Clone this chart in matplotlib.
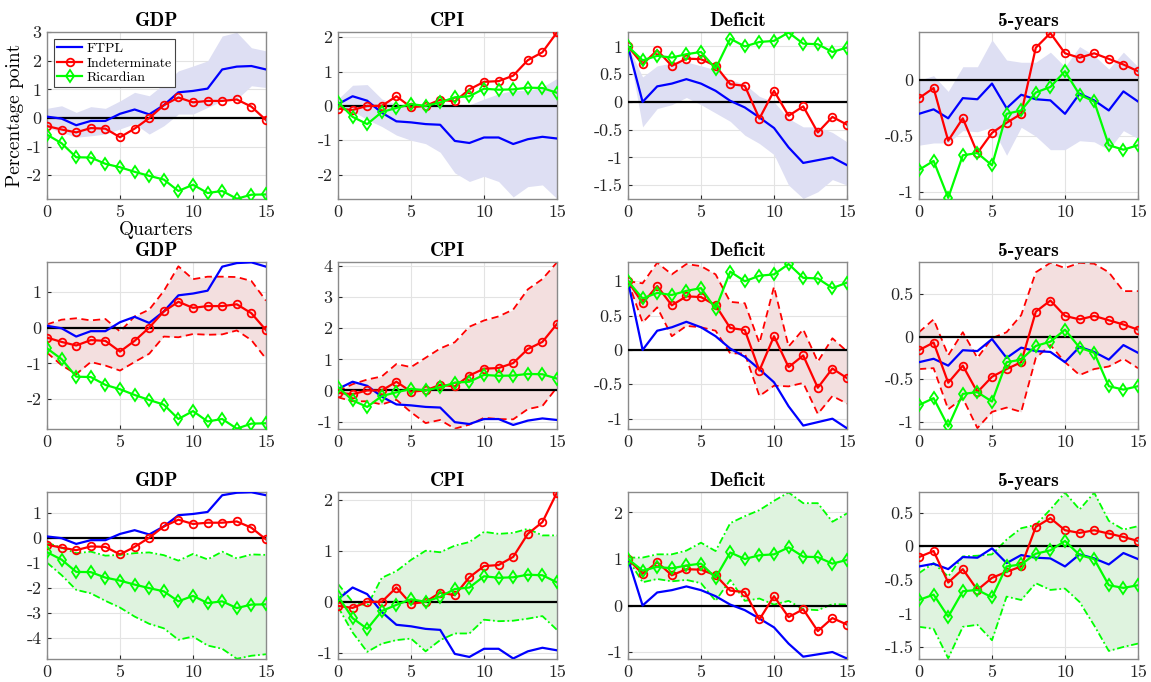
import numpy as np
import matplotlib
matplotlib.use('Agg')
import matplotlib.pyplot as plt

quarters = np.arange(16)
variables = ['GDP', 'CPI', 'Deficit', '5-years']
series_names = ['FTPL', 'Indeterminate', 'Ricardian']

# median responses
gdp_ftpl = [0.05, -0.02, -0.25, -0.1, -0.1, 0.15, 0.3, 0.13, 0.45, 0.9, 0.95, 1.03, 1.7, 1.8, 1.82, 1.7]
gdp_indet = [-0.28, -0.4, -0.5, -0.35, -0.37, -0.67, -0.37, 0.0, 0.45, 0.72, 0.55, 0.6, 0.6, 0.65, 0.4, -0.07]
gdp_ric = [-0.58, -0.88, -1.37, -1.38, -1.6, -1.72, -1.88, -2.02, -2.15, -2.55, -2.33, -2.62, -2.55, -2.82, -2.68, -2.67]

cpi_ftpl = [0.05, 0.28, 0.15, -0.2, -0.45, -0.48, -0.53, -0.55, -1.02, -1.08, -0.92, -0.92, -1.11, -0.97, -0.9, -0.95]
cpi_indet = [-0.08, -0.12, 0.0, 0.0, 0.28, -0.04, 0.0, 0.18, 0.13, 0.48, 0.7, 0.72, 0.88, 1.33, 1.56, 2.14]
cpi_ric = [0.11, -0.32, -0.53, -0.18, -0.06, 0.05, 0.0, 0.1, 0.25, 0.28, 0.5, 0.47, 0.48, 0.53, 0.52, 0.38]

def_ftpl = [1.0, 0.0, 0.28, 0.33, 0.41, 0.33, 0.2, 0.02, -0.1, -0.28, -0.47, -0.82, -1.1, -1.05, -1.0, -1.14]
def_indet = [1.0, 0.68, 0.93, 0.65, 0.78, 0.77, 0.65, 0.32, 0.29, -0.3, 0.2, -0.25, -0.08, -0.55, -0.27, -0.41]
def_ric = [1.0, 0.75, 0.83, 0.8, 0.86, 0.9, 0.6, 1.14, 1.0, 1.08, 1.1, 1.25, 1.05, 1.04, 0.9, 0.98]

y5_ftpl = [-0.3, -0.26, -0.34, -0.16, -0.17, -0.03, -0.25, -0.13, -0.17, -0.18, -0.3, -0.12, -0.18, -0.27, -0.1, -0.19]
y5_indet = [-0.16, -0.07, -0.54, -0.34, -0.65, -0.47, -0.38, -0.3, 0.29, 0.42, 0.24, 0.2, 0.24, 0.19, 0.14, 0.08]
y5_ric = [-0.8, -0.72, -1.05, -0.67, -0.65, -0.76, -0.3, -0.27, -0.11, -0.06, 0.08, -0.13, -0.19, -0.58, -0.62, -0.58]

# FTPL bands (row 1)
gdp_ftpl_hi = [0.34, 0.43, 0.2, 0.4, 0.34, 0.6, 0.9, 0.78, 1.19, 1.65, 1.82, 2.0, 2.87, 3.0, 2.46, 2.35]
gdp_ftpl_lo = [-0.33, -0.5, -0.67, -0.62, -0.56, -0.38, -0.2, -0.56, -0.27, 0.14, 0.14, 0.37, 0.6, 0.66, 1.13, 1.07]
cpi_ftpl_hi = [0.2, 0.6, 0.62, 0.2, 0.05, 0.0, 0.02, -0.02, -0.02, 0.03, 0.2, 0.35, 0.45, 0.45, 0.55, 0.8]
cpi_ftpl_lo = [-0.02, -0.15, -0.4, -0.6, -0.85, -1.0, -1.1, -1.35, -1.95, -2.2, -2.05, -2.2, -2.65, -2.35, -2.3, -2.7]
def_ftpl_hi = [1.0, 0.45, 0.65, 0.7, 0.72, 0.65, 0.58, 0.4, 0.32, 0.1, 0.0, -0.3, -0.45, -0.45, -0.55, -0.72]
def_ftpl_lo = [1.0, -0.45, -0.12, -0.05, 0.08, -0.05, -0.2, -0.35, -0.6, -0.75, -0.95, -1.5, -1.74, -1.62, -1.4, -1.5]
y5_ftpl_hi = [0.0, 0.04, -0.1, 0.12, 0.12, 0.36, 0.18, 0.16, 0.16, 0.25, 0.12, 0.3, 0.22, 0.1, 0.25, 0.12]
y5_ftpl_lo = [-0.58, -0.56, -0.56, -0.45, -0.46, -0.42, -0.67, -0.42, -0.5, -0.62, -0.62, -0.54, -0.55, -0.62, -0.45, -0.52]

# Indeterminate bands (row 2)
gdp_indet_hi = [0.09, 0.22, 0.26, 0.2, 0.24, -0.11, 0.31, 0.5, 1.02, 1.71, 1.35, 1.42, 1.42, 1.41, 1.3, 0.75]
gdp_indet_lo = [-0.7, -1.05, -1.3, -0.96, -1.06, -1.2, -0.96, -0.73, -0.25, -0.27, -0.18, -0.2, -0.19, -0.08, -0.35, -0.87]
cpi_indet_hi = [-0.02, 0.2, 0.35, 0.45, 0.85, 0.75, 1.05, 1.35, 1.55, 2.05, 2.25, 2.38, 2.6, 3.25, 3.58, 4.12]
cpi_indet_lo = [-0.22, -0.35, -0.35, -0.45, -0.3, -0.7, -1.05, -0.95, -1.23, -1.1, -0.88, -0.92, -0.93, -0.6, -0.5, 0.1]
def_indet_hi = [1.0, 0.97, 1.27, 1.1, 1.25, 1.22, 1.1, 0.7, 0.68, 0.1, 0.92, 0.05, 0.3, -0.17, 0.17, -0.02]
def_indet_lo = [1.0, 0.4, 0.62, 0.2, 0.35, 0.33, 0.28, -0.05, -0.05, -0.67, -0.52, -0.53, -0.48, -0.93, -0.67, -0.78]
y5_indet_hi = [0.05, 0.2, -0.22, 0.05, -0.25, -0.02, 0.05, 0.25, 0.75, 0.86, 0.8, 0.86, 0.85, 0.75, 0.53, 0.53]
y5_indet_lo = [-0.38, -0.37, -0.85, -0.72, -1.07, -0.88, -0.83, -0.88, -0.25, -0.1, -0.3, -0.45, -0.38, -0.35, -0.26, -0.37]

# Ricardian bands (row 3)
gdp_ric_hi = [-0.2, -0.4, -0.62, -0.56, -0.72, -0.69, -0.62, -0.59, -0.7, -0.92, -0.65, -0.87, -0.56, -0.83, -0.67, -0.69]
gdp_ric_lo = [-1.0, -1.5, -2.09, -2.23, -2.53, -2.8, -3.16, -3.45, -3.63, -4.09, -3.96, -4.32, -4.45, -4.85, -4.73, -4.67]
cpi_ric_hi = [0.35, 0.0, -0.08, 0.47, 0.6, 0.82, 1.0, 0.97, 1.1, 1.17, 1.37, 1.33, 1.35, 1.43, 1.3, 1.3]
cpi_ric_lo = [-0.1, -0.6, -0.98, -0.82, -0.75, -0.72, -0.97, -0.75, -0.62, -0.62, -0.35, -0.38, -0.37, -0.33, -0.28, -0.55]
def_ric_hi = [1.03, 1.03, 1.1, 1.1, 1.18, 1.35, 1.17, 1.77, 1.92, 2.05, 2.25, 2.43, 2.2, 2.2, 1.8, 1.98]
def_ric_lo = [1.0, 0.5, 0.57, 0.52, 0.55, 0.48, 0.1, 0.55, 0.1, 0.15, 0.02, 0.1, -0.08, -0.1, 0.03, 0.02]
y5_ric_hi = [-0.4, -0.25, -0.45, -0.15, -0.14, -0.12, 0.1, 0.27, 0.32, 0.55, 0.8, 0.55, 0.8, 0.38, 0.25, 0.3]
y5_ric_lo = [-1.2, -1.23, -1.67, -1.2, -1.17, -1.4, -0.75, -0.8, -0.55, -0.65, -0.63, -0.83, -1.18, -1.56, -1.5, -1.45]

medians = {
    'GDP': (gdp_ftpl, gdp_indet, gdp_ric),
    'CPI': (cpi_ftpl, cpi_indet, cpi_ric),
    'Deficit': (def_ftpl, def_indet, def_ric),
    '5-years': (y5_ftpl, y5_indet, y5_ric),
}
bands = [
    {'GDP': (gdp_ftpl_lo, gdp_ftpl_hi), 'CPI': (cpi_ftpl_lo, cpi_ftpl_hi),
     'Deficit': (def_ftpl_lo, def_ftpl_hi), '5-years': (y5_ftpl_lo, y5_ftpl_hi)},
    {'GDP': (gdp_indet_lo, gdp_indet_hi), 'CPI': (cpi_indet_lo, cpi_indet_hi),
     'Deficit': (def_indet_lo, def_indet_hi), '5-years': (y5_indet_lo, y5_indet_hi)},
    {'GDP': (gdp_ric_lo, gdp_ric_hi), 'CPI': (cpi_ric_lo, cpi_ric_hi),
     'Deficit': (def_ric_lo, def_ric_hi), '5-years': (y5_ric_lo, y5_ric_hi)},
]
yticks = [
    {'GDP': np.arange(-2, 4), 'CPI': np.arange(-2, 3), 'Deficit': np.arange(-1.5, 1.1, 0.5), '5-years': [-1, -0.5, 0]},
    {'GDP': np.arange(-2, 2), 'CPI': np.arange(-1, 5), 'Deficit': np.arange(-1, 1.1, 0.5), '5-years': [-1, -0.5, 0, 0.5]},
    {'GDP': np.arange(-4, 2), 'CPI': np.arange(-1, 3), 'Deficit': np.arange(-1, 3), '5-years': np.arange(-1.5, 0.6, 0.5)},
]

line_colors = ['#0000ff', '#ff0000', '#00ff00']
band_colors = ['#dedff3', '#f3dfdf', '#dff3df']
band_styles = [None, (0, (4, 2.5)), (0, (4, 1.5, 1, 1.5))]

plt.rcParams['font.family'] = ['cmr10', 'DejaVu Serif']
plt.rcParams['axes.unicode_minus'] = False
plt.rcParams['mathtext.fontset'] = 'cm'

W, H = 1151, 682
lefts = [47, 338, 628, 919]
tops = [32, 262, 492]
aw, ah = 219, 167


def fmt(v):
    s = ('%.1f' % v).rstrip('0').rstrip('.')
    return '0' if s in ('-0', '') else s


def draw_panel(ax, row, var):
    lo, hi = bands[row][var]
    ax.fill_between(quarters, lo, hi, color=band_colors[row], lw=0, zorder=1)
    if band_styles[row] is not None:
        ax.plot(quarters, lo, color=line_colors[row], lw=1.3, ls=band_styles[row], zorder=2)
        ax.plot(quarters, hi, color=line_colors[row], lw=1.3, ls=band_styles[row], zorder=2)
    ax.axhline(0, color='black', lw=1.6, zorder=3)
    f, ind, ric = medians[var]
    ax.plot(quarters, f, color=line_colors[0], lw=1.6, zorder=4, label=series_names[0])
    ax.plot(quarters, ind, color=line_colors[1], lw=1.6, marker='o', ms=5.5, mfc='none', mew=1.3,
            zorder=5, label=series_names[1])
    ax.plot(quarters, ric, color=line_colors[2], lw=1.6, marker='d', ms=6, mfc='none', mew=1.3,
            zorder=6, label=series_names[2])

    allv = np.concatenate([f, ind, ric, lo, hi])
    ax.set_xlim(0, 15)
    ax.set_ylim(allv.min() - 0.01, allv.max() + 0.01)
    ax.set_xticks([0, 5, 10, 15])
    yt = yticks[row][var]
    ax.set_yticks(yt)
    ax.set_yticklabels([fmt(v) for v in yt])
    ax.grid(True, color='#e3e3e3', lw=0.8, zorder=0)
    ax.set_axisbelow(True)
    ax.tick_params(direction='in', length=3, labelsize=13, colors='#262626', pad=4)
    for s in ax.spines.values():
        s.set_color('#8a8a8a')
        s.set_linewidth(1.0)
    ax.set_title(var, fontsize=14, fontfamily='cmb10', pad=4)


def main():
    fig = plt.figure(figsize=(W / 100, H / 100), dpi=100)
    for r in range(3):
        for c, var in enumerate(variables):
            ax = fig.add_axes([lefts[c] / W, 1 - (tops[r] + ah) / H, aw / W, ah / H])
            draw_panel(ax, r, var)
            if r == 0 and c == 0:
                ax.set_ylabel('Percentage point', fontsize=14, labelpad=2)
                ax.set_xlabel('Quarters', fontsize=14, labelpad=1)
                leg = ax.legend(loc='upper left', fontsize=10, frameon=True, fancybox=False,
                                handlelength=1.8, borderpad=0.25, labelspacing=0.12,
                                handletextpad=0.3, borderaxespad=0.5, framealpha=1)
                leg.get_frame().set_edgecolor('#444444')
                leg.get_frame().set_linewidth(0.8)
    fig.savefig('out.png', dpi=100)


if __name__ == '__main__':
    main()
